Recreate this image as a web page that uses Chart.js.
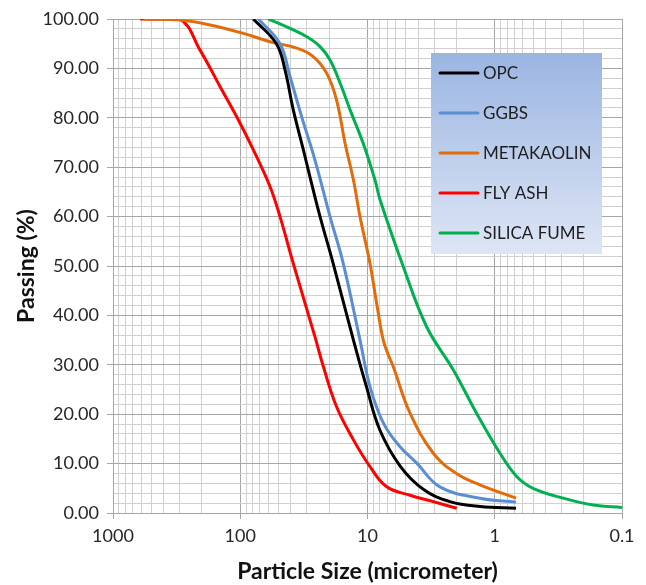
<!DOCTYPE html>
<html>
<head>
<meta charset="utf-8">
<script src="https://cdn.jsdelivr.net/npm/chart.js@4/dist/chart.umd.min.js"></script>
<style>
    html, body { margin: 0; padding: 0; background: #ffffff; }
    #wrap { width: 646px; height: 585px; }
</style>
</head>
<body>
<div id="wrap"><canvas id="psdChart" width="646" height="585"></canvas></div>
<script>
// Particle size distribution

const seriesNames = ['OPC', 'GGBS', 'METAKAOLIN', 'FLY ASH', 'SILICA FUME'];

const opcSize    = [79, 52, 44.5, 38.3, 31.9, 28.3, 23.6, 18.6, 12.9, 10.2, 8.0, 5.5, 3.6, 2.25, 1.3, 0.68];
const opcPassing = [100, 95, 89.7, 81.6, 73.5, 68, 60, 50.5, 35, 25.6, 16.8, 9.4, 4.7, 2.3, 1.3, 0.95];

const ggbsSize    = [72, 48.7, 40.6, 32.9, 25.9, 19.7, 15.5, 11.45, 9.56, 7.5, 5.55, 4.1, 2.7, 1.31, 0.68];
const ggbsPassing = [100, 95, 88.3, 80.2, 71.5, 60, 50.5, 35, 25.6, 18.2, 13.4, 10.1, 5.3, 3.0, 2.2];

const metakaolinSize    = [580, 297, 173, 94.6, 58.4, 36, 26.7, 20.9, 17.5, 15, 12.9, 11.45, 9.56, 8.47, 7.52, 6.9, 6.27, 4.63, 3.04, 2.0, 1.31, 0.68];
const metakaolinPassing = [100, 99.8, 98.8, 97.1, 95.4, 94.1, 92.4, 89, 83.6, 74.8, 67.4, 60, 50.5, 42.4, 35, 32.2, 29.6, 20.2, 12.1, 8.0, 5.7, 3.0];

const flyAshSize    = [610, 300, 207, 144, 106.6, 78.9, 58.4, 48.7, 38.3, 25.9, 22.2, 17.5, 12.9, 9.56, 7.06, 4.63, 3.04, 1.99];
const flyAshPassing = [100, 100, 93.7, 86.3, 80.2, 73.5, 66.1, 60, 50.5, 35.7, 29.6, 21.5, 14.8, 9.4, 5.3, 3.6, 2.3, 0.95];

const silicaSize    = [60, 40.6, 30, 23.6, 19.7, 16.4, 13.7, 10.8, 8.73, 7.97, 5.24, 3.43, 2.11, 1.39, 0.91, 0.67, 0.5, 0.29, 0.168, 0.1];
const silicaPassing = [100, 98.1, 96.4, 94.4, 91.7, 87, 81.6, 74.8, 67.4, 63.4, 49.9, 37.7, 28.9, 20.2, 12.1, 7.35, 5.0, 3.0, 1.6, 1.1];

const seriesColors = ['#000000', '#5A8ED3', '#E36C0A', '#FF0000', '#00B050'];

const xDecades = [1000, 100, 10, 1, 0.1];
const xTickLabels = ['1000', '100', '10', '1', '0.1'];
const yMajorTicks = [0, 10, 20, 30, 40, 50, 60, 70, 80, 90, 100];

const FONT = 'Lato, "Open Sans", "DejaVu Sans", sans-serif';

function toPoints(sizes, passing) {
    return sizes.map((s, i) => ({ x: s, y: passing[i] }));
}

function isDecade(v) {
    return xDecades.some(d => Math.abs(d - v) / d < 1e-9);
}

// every 1..9 multiple of each decade, like a log paper grid
function buildLogTicks() {
    const ticks = [];
    for (let d = 0.1; d < 1000; d *= 10) {
        for (let m = 1; m < 10; m++) ticks.push(+(d * m).toPrecision(6));
    }
    ticks.push(1000);
    return ticks;
}

// custom legend box with a blue gradient, placed inside the plot
const gradientLegend = {
    id: 'gradientLegend',
    afterDraw(chart) {
        const { ctx, chartArea } = chart;
        const boxLeft = chartArea.right - 191;
        const boxTop = chartArea.top + 34;
        const boxW = 171;
        const boxH = 201;

        ctx.save();
        const grad = ctx.createLinearGradient(0, boxTop, 0, boxTop + boxH);
        grad.addColorStop(0, '#9BB5E2');
        grad.addColorStop(1, '#DEE6F5');
        ctx.fillStyle = grad;
        ctx.fillRect(boxLeft, boxTop, boxW, boxH);

        ctx.font = '17px ' + FONT;
        ctx.textBaseline = 'middle';
        ctx.textAlign = 'left';
        chart.data.datasets.forEach((ds, i) => {
            const rowY = boxTop + 20 + i * 40;
            ctx.strokeStyle = ds.borderColor;
            ctx.lineWidth = 3;
            ctx.lineCap = 'round';
            ctx.beginPath();
            ctx.moveTo(boxLeft + 9, rowY);
            ctx.lineTo(boxLeft + 47, rowY);
            ctx.stroke();
            ctx.fillStyle = '#1E1E1E';
            ctx.fillText(ds.label, boxLeft + 52, rowY + 1);
        });
        ctx.restore();
    }
};

const sizeArrays = [opcSize, ggbsSize, metakaolinSize, flyAshSize, silicaSize];
const passingArrays = [opcPassing, ggbsPassing, metakaolinPassing, flyAshPassing, silicaPassing];

const datasets = seriesNames.map((name, i) => ({
    label: name,
    data: toPoints(sizeArrays[i], passingArrays[i]),
    borderColor: seriesColors[i],
    backgroundColor: seriesColors[i],
    borderWidth: 3,
    pointRadius: 0,
    tension: 0.4,
    fill: false
}));

const logTicks = buildLogTicks();

new Chart(document.getElementById('psdChart'), {
    type: 'line',
    data: { datasets },
    plugins: [gradientLegend],
    options: {
        responsive: false,
        animation: false,
        layout: { padding: { top: 19, right: 24, left: 0, bottom: 0 } },
        plugins: {
            legend: { display: false },
            tooltip: { enabled: false }
        },
        scales: {
            x: {
                type: 'logarithmic',
                reverse: true,
                min: 0.1,
                max: 1000,
                afterBuildTicks: axis => { axis.ticks = logTicks.map(v => ({ value: v })); },
                afterFit: axis => { axis.height = 72; },
                ticks: {
                    autoSkip: false,
                    maxRotation: 0,
                    padding: 6,
                    color: '#262626',
                    font: { family: FONT, size: 18 },
                    callback: v => {
                        const idx = xDecades.findIndex(d => Math.abs(d - v) / d < 1e-9);
                        return idx >= 0 ? xTickLabels[idx] : '';
                    }
                },
                grid: {
                    color: c => isDecade(c.tick.value) ? '#A6A6A6' : '#D0D0D0',
                    tickColor: c => isDecade(c.tick.value) ? '#A6A6A6' : 'rgba(0,0,0,0)',
                    tickLength: 6,
                    lineWidth: 1
                },
                border: { color: '#A6A6A6' },
                title: {
                    display: true,
                    text: 'Particle Size (micrometer)',
                    color: '#111111',
                    font: { family: FONT, size: 23, weight: 'bold' },
                    padding: { top: 0, bottom: 0 }
                }
            },
            y: {
                min: 0,
                max: 100,
                afterBuildTicks: axis => {
                    const t = [];
                    for (let v = 0; v <= 100; v += 2) t.push({ value: v });
                    axis.ticks = t;
                },
                afterFit: axis => { axis.width = 113; },
                ticks: {
                    autoSkip: false,
                    padding: 8,
                    color: '#262626',
                    font: { family: FONT, size: 18 },
                    callback: v => yMajorTicks.includes(v) ? v.toFixed(2) : ''
                },
                grid: {
                    color: c => yMajorTicks.includes(c.tick.value) ? '#A6A6A6' : '#D0D0D0',
                    tickColor: c => yMajorTicks.includes(c.tick.value) ? '#A6A6A6' : 'rgba(0,0,0,0)',
                    tickLength: 6,
                    lineWidth: 1
                },
                border: { color: '#A6A6A6' },
                title: {
                    display: true,
                    text: 'Passing (%)',
                    color: '#111111',
                    font: { family: FONT, size: 23, weight: 'bold' },
                    padding: { top: 13, bottom: 0 }
                }
            }
        }
    }
});
</script>
</body>
</html>
